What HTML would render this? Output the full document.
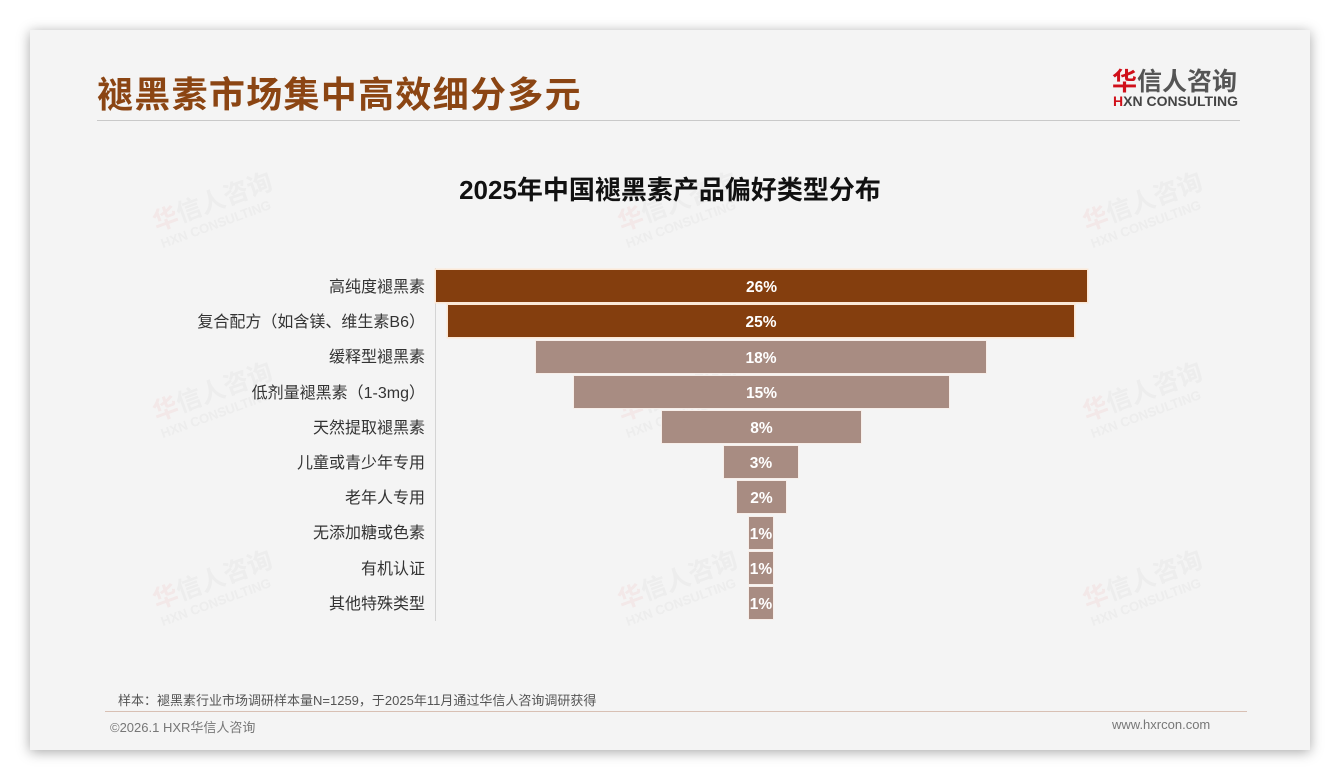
<!DOCTYPE html>
<html><head><meta charset="utf-8">
<style>
*{margin:0;padding:0;box-sizing:border-box}
html,body{width:1340px;height:780px;background:#fff;overflow:hidden;font-family:"Liberation Sans","Noto Sans CJK SC",sans-serif}
.card{position:absolute;left:30px;top:30px;width:1280px;height:720px;background:#f4f4f4;box-shadow:0 2px 12px rgba(0,0,0,0.35)}
.abs{position:absolute}
.title{left:97px;top:66px;font-size:36px;font-weight:bold;color:#8b4513;white-space:nowrap;letter-spacing:1.3px}
.hline{left:97px;top:120px;width:1143px;height:1px;background:#c9c9c9}
.logo1{left:1112px;top:62px;font-size:25px;font-weight:bold;color:#555;white-space:nowrap;letter-spacing:0px}
.logo1 span{color:#d0101a}
.logo2{left:1113px;top:93px;font-size:14px;font-weight:bold;color:#444;white-space:nowrap}
.logo2 span{color:#d0101a}
.ctitle{left:370px;width:600px;top:170px;text-align:center;font-size:26px;font-weight:bold;color:#111;white-space:nowrap}
.lbl{right:915px;font-size:16px;color:#333;white-space:nowrap;height:32px;line-height:36px;text-align:right}
.bar{height:32px;line-height:35px;text-align:center;color:#fff;font-weight:bold;font-size:15.5px;white-space:nowrap;overflow:visible}
.dark{background:#843e0e;box-shadow:0 0 0 1.5px #fbe8d6}
.light{background:#a88c82;box-shadow:0 0 0 1px #f7eee9}
.axis{left:435px;top:268px;width:1px;height:353px;background:#d4d4d4}
.note{left:118px;top:690px;font-size:13px;color:#555;white-space:nowrap}
.fline{left:105px;top:711px;width:1142px;height:1px;background:#d8c0b4}
.foot{top:717px;font-size:13px;color:#777;white-space:nowrap}
</style></head><body>
<div class="card"></div>

<svg class="abs" style="left:0;top:0" width="1340" height="780">
<g font-family="Liberation Sans, Noto Sans CJK SC, sans-serif" font-weight="bold" opacity="0.42">
<g transform="translate(215,210) rotate(-20)">
<text x="-62" y="0" font-size="25" fill="#f0d6d6">华</text><text x="-37" y="0" font-size="25" fill="#e2e2e2">信人咨询</text>
<text x="-62" y="18" font-size="13" fill="#e2e2e2">HXN CONSULTING</text></g>
<g transform="translate(680,210) rotate(-20)">
<text x="-62" y="0" font-size="25" fill="#f0d6d6">华</text><text x="-37" y="0" font-size="25" fill="#e2e2e2">信人咨询</text>
<text x="-62" y="18" font-size="13" fill="#e2e2e2">HXN CONSULTING</text></g>
<g transform="translate(1145,210) rotate(-20)">
<text x="-62" y="0" font-size="25" fill="#f0d6d6">华</text><text x="-37" y="0" font-size="25" fill="#e2e2e2">信人咨询</text>
<text x="-62" y="18" font-size="13" fill="#e2e2e2">HXN CONSULTING</text></g>
<g transform="translate(215,400) rotate(-20)">
<text x="-62" y="0" font-size="25" fill="#f0d6d6">华</text><text x="-37" y="0" font-size="25" fill="#e2e2e2">信人咨询</text>
<text x="-62" y="18" font-size="13" fill="#e2e2e2">HXN CONSULTING</text></g>
<g transform="translate(680,400) rotate(-20)">
<text x="-62" y="0" font-size="25" fill="#f0d6d6">华</text><text x="-37" y="0" font-size="25" fill="#e2e2e2">信人咨询</text>
<text x="-62" y="18" font-size="13" fill="#e2e2e2">HXN CONSULTING</text></g>
<g transform="translate(1145,400) rotate(-20)">
<text x="-62" y="0" font-size="25" fill="#f0d6d6">华</text><text x="-37" y="0" font-size="25" fill="#e2e2e2">信人咨询</text>
<text x="-62" y="18" font-size="13" fill="#e2e2e2">HXN CONSULTING</text></g>
<g transform="translate(215,588) rotate(-20)">
<text x="-62" y="0" font-size="25" fill="#f0d6d6">华</text><text x="-37" y="0" font-size="25" fill="#e2e2e2">信人咨询</text>
<text x="-62" y="18" font-size="13" fill="#e2e2e2">HXN CONSULTING</text></g>
<g transform="translate(680,588) rotate(-20)">
<text x="-62" y="0" font-size="25" fill="#f0d6d6">华</text><text x="-37" y="0" font-size="25" fill="#e2e2e2">信人咨询</text>
<text x="-62" y="18" font-size="13" fill="#e2e2e2">HXN CONSULTING</text></g>
<g transform="translate(1145,588) rotate(-20)">
<text x="-62" y="0" font-size="25" fill="#f0d6d6">华</text><text x="-37" y="0" font-size="25" fill="#e2e2e2">信人咨询</text>
<text x="-62" y="18" font-size="13" fill="#e2e2e2">HXN CONSULTING</text></g>
</g>
</svg>

<div class="abs title">褪黑素市场集中高效细分多元</div>
<div class="abs hline"></div>
<div class="abs logo1"><span>华</span>信人咨询</div>
<div class="abs logo2"><span>H</span>XN CONSULTING</div>

<div class="abs ctitle">2025年中国褪黑素产品偏好类型分布</div>

<div class="abs axis"></div>

<div class="abs lbl" style="top:270px">高纯度褪黑素</div>
<div class="abs lbl" style="top:305px">复合配方（如含镁、维生素B6）</div>
<div class="abs lbl" style="top:340px">缓释型褪黑素</div>
<div class="abs lbl" style="top:376px">低剂量褪黑素（1-3mg）</div>
<div class="abs lbl" style="top:411px">天然提取褪黑素</div>
<div class="abs lbl" style="top:446px">儿童或青少年专用</div>
<div class="abs lbl" style="top:481px">老年人专用</div>
<div class="abs lbl" style="top:516px">无添加糖或色素</div>
<div class="abs lbl" style="top:552px">有机认证</div>
<div class="abs lbl" style="top:587px">其他特殊类型</div>

<div class="abs bar dark" style="left:436px;top:270px;width:651px">26%</div>
<div class="abs bar dark" style="left:448px;top:305px;width:626px">25%</div>
<div class="abs bar light" style="left:536px;top:341px;width:450px">18%</div>
<div class="abs bar light" style="left:574px;top:376px;width:375px">15%</div>
<div class="abs bar light" style="left:662px;top:411px;width:199px">8%</div>
<div class="abs bar light" style="left:724px;top:446px;width:74px">3%</div>
<div class="abs bar light" style="left:737px;top:481px;width:49px">2%</div>
<div class="abs bar light" style="left:749px;top:517px;width:24px">1%</div>
<div class="abs bar light" style="left:749px;top:552px;width:24px">1%</div>
<div class="abs bar light" style="left:749px;top:587px;width:24px">1%</div>

<div class="abs note">样本：褪黑素行业市场调研样本量N=1259，于2025年11月通过华信人咨询调研获得</div>
<div class="abs fline"></div>
<div class="abs foot" style="left:110px">©2026.1 HXR华信人咨询</div>
<div class="abs foot" style="left:1112px">www.hxrcon.com</div>
</body></html>
